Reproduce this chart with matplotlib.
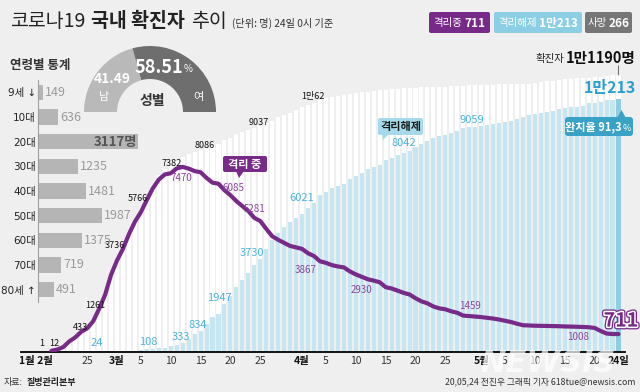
import matplotlib
matplotlib.use('Agg')
import matplotlib.pyplot as plt
import matplotlib.patheffects as pe
from matplotlib.patches import Wedge, FancyBboxPatch, Polygon
import pandas as pd

# ---- data (KCDC, 0시 기준) ----
dates = pd.date_range('2020-02-19', '2020-05-24')

confirmed = [51, 104, 204, 433, 602, 833, 977, 1261, 1766, 2337, 3150,
             3736, 4212, 4812, 5328, 5766, 6284, 6767, 7134, 7382, 7513, 7755, 7869, 7979, 8086, 8162,
             8236, 8320, 8413, 8565, 8652, 8799, 8897, 8961, 9037, 9137, 9241, 9332, 9478, 9583, 9661, 9786,
             9887, 9976, 10062, 10156, 10237, 10284, 10331, 10384, 10423, 10450, 10480, 10512, 10537, 10564,
             10591, 10613, 10635, 10653, 10661, 10674, 10683, 10694, 10702, 10708, 10718, 10728, 10738, 10752,
             10761, 10765,
             10774, 10780, 10793, 10801, 10804, 10806, 10810, 10822, 10840, 10874, 10909, 10936, 10962, 10991,
             11018, 11037, 11050, 11065, 11078, 11110, 11122, 11142, 11165, 11190]

released = [16, 16, 16, 16, 18, 18, 22, 22, 24, 27, 28,
            30, 31, 34, 41, 88, 108, 118, 130, 166, 247, 288, 333, 510, 714, 834,
            1137, 1407, 1540, 1947, 2233, 2612, 2909, 3166, 3507, 3730, 4144, 4528, 4811, 5033, 5228, 5408,
            5567, 5828, 6021, 6325, 6463, 6598, 6694, 6776, 6973, 7117, 7243, 7368, 7447, 7534,
            7757, 7829, 7937, 8042, 8114, 8277, 8411, 8501, 8635, 8717, 8764, 8854, 8922, 9059, 9072, 9102,
            9140, 9180, 9220, 9260, 9297, 9337, 9394, 9475, 9568, 9608, 9660, 9701, 9741, 9798,
            9838, 9879, 9903, 9931, 10040, 10065, 10105, 10174, 10180, 10213]

isolated = [35, 87, 187, 415, 578, 803, 945, 1227, 1729, 2294, 3105,
            3686, 4159, 4750, 5255, 5643, 6134, 6605, 6954, 7165, 7212, 7407, 7470, 7402, 7300, 7253,
            7024, 6832, 6789, 6527, 6325, 6085, 5884, 5684, 5410, 5281, 4966, 4665, 4523, 4398, 4275, 4216,
            4155, 3979, 3867, 3654, 3591, 3500, 3445, 3408, 3246, 3125, 3026, 2930, 2873, 2808,
            2609, 2555, 2468, 2379, 2313, 2161, 2035, 1955, 1827, 1751, 1714, 1632, 1573, 1459, 1440, 1420,
            1400, 1370, 1340, 1300, 1250, 1200, 1130, 1070, 1060, 1050, 1045, 1040, 1035, 1030,
            1020, 1015, 1008, 1000, 990, 960, 840, 735, 715, 711]

conf_label_dates = ['2020-02-22', '2020-02-26', '2020-03-01', '2020-03-05', '2020-03-09',
                    '2020-03-14', '2020-03-24', '2020-04-03']
rel_label_dates = ['2020-02-27', '2020-03-06', '2020-03-12', '2020-03-15', '2020-03-19',
                   '2020-03-25', '2020-04-03', '2020-04-18', '2020-04-28']
iso_label_dates = ['2020-03-12', '2020-03-21', '2020-03-25', '2020-04-03', '2020-04-12',
                   '2020-04-28', '2020-05-17']
early_labels = ['1', '12']

tick_days = [-13.6, -5, 0, 4, 9, 14, 19, 24, 31, 35, 40, 45, 50, 55, 61, 65, 70, 75, 80, 84]
tick_labels = ['1월 2월', '25', '3월', '5', '10', '15', '20', '25', '4월', '5', '10', '15', '20', '25',
               '5월', '5', '10', '15', '20', '24일']

age_groups = ['9세 ↓', '10대', '20대', '30대', '40대', '50대', '60대', '70대', '80세 ↑']
age_counts = [149, 636, 3117, 1235, 1481, 1987, 1375, 719, 491]

male_pct = 41.49
female_pct = 58.51
deaths = 266
recovery_rate = '91,3'

# ---- style ----
KR = 'Noto Sans CJK KR'
NUM = ['Liberation Sans Narrow', 'Noto Sans CJK KR']
plt.rcParams['font.family'] = [KR, 'DejaVu Sans']
BG = '#efefef'
PURPLE = '#782a88'
BLUE = '#c6e6f1'
BLUE_TXT = '#4db3dc'
W, H = 640, 392


def man(v):
    return f'{v // 10000}만{v % 10000}' if v >= 10000 else str(v)


days = list((dates - pd.Timestamp('2020-03-01')).days)
idx = {d.strftime('%Y-%m-%d'): i for i, d in enumerate(dates)}

fig = plt.figure(figsize=(W / 100, H / 100), dpi=100, facecolor=BG)
renderer = fig.canvas.get_renderer()


def box(l, t, r, b):
    return [l / W, 1 - b / H, (r - l) / W, (b - t) / H]


# ---- main chart ----
base_y, top_y, left_x, right_x = 351.7, 40, 20.7, 625
x_mar1, px_day, px_person = 117, 5.97, 0.02474
ax = fig.add_axes(box(left_x, top_y, right_x, base_y))
ax.set_facecolor('none')
ax.set_xlim((left_x - x_mar1) / px_day, (right_x - x_mar1) / px_day)
ax.set_ylim(0, (base_y - top_y) / px_person)
for s in ['top', 'right', 'left']:
    ax.spines[s].set_visible(False)
ax.spines['bottom'].set_linewidth(1.3)
ax.set_yticks([])

ax.bar(days, confirmed, width=0.68, color='white', zorder=1)
ax.bar(days, released, width=0.68, color=BLUE, zorder=2)
ax.bar(days[-1:], released[-1:], width=0.68, color='#8fcde2', zorder=2)
ax.plot(days, isolated, color=PURPLE, lw=3, solid_joinstyle='round', solid_capstyle='round', zorder=3)

ax.set_xticks(tick_days, tick_labels)
ax.tick_params(axis='x', length=0, pad=3)
for t in ax.get_xticklabels():
    t.set_family(NUM)
    t.set_fontsize(7.5)
    if '월' in t.get_text() or '일' in t.get_text():
        t.set_fontweight('bold')
        t.set_color('#111')
    else:
        t.set_color('#333')

conf_off = [(11, 13), (2, 15.5), (-2, 14), (-3, 11), (7, 6), (10, 6), (4, 6), (-1, 6)]
for d, (dx, dy) in zip(conf_label_dates, conf_off):
    i = idx[d]
    ax.annotate(man(confirmed[i]), (days[i], confirmed[i]), xytext=(dx, dy), textcoords='offset pixels',
                ha='center', va='center', fontsize=6.5, family=NUM, color='#111', zorder=5)

rel_off = [(-2, 8), (1, 7), (-2, 6.5), (-3, 6), (-5, 5.5), (-8, 6.4), (-12, 4.7), (0, 9.7), (9, 7.6)]
for d, (dx, dy) in zip(rel_label_dates, rel_off):
    i = idx[d]
    ax.annotate(man(released[i]), (days[i], released[i]), xytext=(dx, dy), textcoords='offset pixels',
                ha='center', va='center', fontsize=8, family=NUM, color=BLUE_TXT, zorder=5)

iso_off = [(-1, -11), (-3, 13), (-6, 12), (-8, -14), (-6, -11), (7, 9.6), (1, -10)]
for d, (dx, dy) in zip(iso_label_dates, iso_off):
    i = idx[d]
    ax.annotate(str(isolated[i]), (days[i], isolated[i]), xytext=(dx, dy), textcoords='offset pixels',
                ha='center', va='center', fontsize=7, family=NUM, color='#8a44a0', zorder=5)

ax.annotate(str(isolated[-1]), (days[-1], isolated[-1]), xytext=(2.5, 13), textcoords='offset pixels',
            ha='center', va='center', fontsize=14, family=NUM, fontweight='bold', color=PURPLE, zorder=6,
            path_effects=[pe.Stroke(linewidth=4, foreground=PURPLE), pe.Stroke(linewidth=2.2, foreground='white'),
                          pe.Normal()])
ax.annotate(man(released[-1]), (days[-1], released[-1]), xytext=(-8.5, 11), textcoords='offset pixels',
            ha='center', va='center', fontsize=11.5, family=NUM, fontweight='bold', color='#2a9fd0', zorder=6)
ax.annotate('', (days[-1], confirmed[-1]), xytext=(0, 9), textcoords='offset pixels',
            arrowprops=dict(arrowstyle='-', color='#777', lw=0.8, shrinkA=0, shrinkB=0))

# ---- overlay for text / callouts (pixel coords) ----
ov = fig.add_axes([0, 0, 1, 1], zorder=5)
ov.set_xlim(0, W)
ov.set_ylim(H, 0)
ov.axis('off')
ov.patch.set_alpha(0)


def right_edge(t):
    bb = t.get_window_extent(renderer)
    return ov.transData.inverted().transform((bb.x1, bb.y0))[0]


def width(t):
    bb = t.get_window_extent(renderer)
    return bb.width


# title, chained left to right
x = 10
for s, kw, gap in [('코로나19', {}, 6), ('국내 확진자', {'fontweight': 'bold'}, 6), ('추이', {}, 5)]:
    t = ov.text(x, 21, s, fontsize=14, va='center', color='#222', **kw)
    x = right_edge(t) + gap
ov.text(x, 23, '(단위: 명) 24일 0시 기준', fontsize=7.3, va='center', color='#333')

# badges, label + bold value centred in each box
badges = [(429, 490, PURPLE, '격리중', str(isolated[-1])),
          (494, 582, '#8ccfe4', '격리해제', man(released[-1])),
          (585, 632, '#767676', '사망', str(deaths))]
for l, r, c, lab, val in badges:
    ov.add_patch(FancyBboxPatch((l, 12), r - l, 21, boxstyle='round,pad=0,rounding_size=2', fc=c, ec='none'))
    t1 = ov.text(0, 23, lab, ha='left', va='center', fontsize=7.5, color='white')
    t2 = ov.text(0, 23, val, ha='left', va='center', fontsize=8.5, family=NUM, fontweight='bold', color='white')
    w1, w2 = width(t1), width(t2)
    start = (l + r) / 2 - (w1 + w2 + 2) / 2
    t1.set_x(start)
    t2.set_x(start + w1 + 2)

ov.text(564, 59, '확진자', ha='right', va='center', fontsize=7.5, color='#222')
ov.text(566, 58, man(confirmed[-1]) + '명', ha='left', va='center', fontsize=10.5, family=NUM,
        fontweight='bold', color='#111')

for e, x in zip(early_labels, [42, 54]):
    ov.text(x, 343, e, ha='center', va='center', fontsize=6.5, family=NUM, color='#111')

# callouts
ov.add_patch(FancyBboxPatch((223, 156), 44, 16, boxstyle='round,pad=0,rounding_size=2', fc=PURPLE, ec='none'))
ov.add_patch(Polygon([[236, 171], [244, 171], [239, 178]], closed=True, fc=PURPLE, ec='none'))
ov.text(245, 164, '격리 중', ha='center', va='center', fontsize=8, fontweight='bold', color='white')

ov.add_patch(FancyBboxPatch((378, 118), 45, 17, boxstyle='round,pad=0,rounding_size=2', fc='#a6daea', ec='none'))
ov.add_patch(Polygon([[382, 134], [389, 134], [383, 140]], closed=True, fc='#a6daea', ec='none'))
ov.text(400.5, 126.5, '격리해제', ha='center', va='center', fontsize=8, fontweight='bold', color='#1a1a1a')

ov.add_patch(FancyBboxPatch((565, 117), 68, 19, boxstyle='round,pad=0,rounding_size=3', fc='#3aa2c6', ec='none'))
ov.add_patch(Polygon([[617, 118], [626, 118], [621.5, 110]], closed=True, fc='#3aa2c6', ec='none'))
ov.text(622, 127, f'완치율 {recovery_rate}', ha='right', va='center', fontsize=8, fontweight='bold',
        color='white')
ov.text(623, 128, '%', ha='left', va='center', fontsize=6.5, color='white')

# gender gauge
cx, cy, R = 150, 112, 66
split_ang = 180 + male_pct / 100 * 180
ov.add_patch(Wedge((cx, cy), R, 180, split_ang, width=33, fc='#b9b9b9', ec='none'))
ov.add_patch(Wedge((cx, cy), R, split_ang, 360, width=33, fc='#6e6e6e', ec='none'))
ov.text(112, 79, f'{male_pct:.2f}', ha='center', va='center', fontsize=10, family=NUM, fontweight='bold',
        color='white')
ov.text(104, 97, '남', ha='center', va='center', fontsize=8, color='white')
ov.text(183, 67, f'{female_pct:.2f}', ha='right', va='center', fontsize=13, family=NUM, fontweight='bold',
        color='white')
ov.text(184, 69, '%', ha='left', va='center', fontsize=7, color='white')
ov.text(198, 97, '여', ha='center', va='center', fontsize=8, color='white')
ov.text(152, 101, '성별', ha='center', va='center', fontsize=10, fontweight='bold', color='#333')

# ---- age panel ----
ov.text(10, 65, '연령별 통계', ha='left', va='center', fontsize=9, fontweight='bold', color='#333')
age_px = 0.0321
ax2 = fig.add_axes(box(38, 80, 163, 302), zorder=2)
ax2.set_facecolor('none')
ax2.set_xlim(0, 125 / age_px)
ax2.set_ylim(len(age_groups) - 0.5, -0.5)
ax2.barh(range(len(age_groups)), age_counts, height=0.62, color='#b5b5b5')
for s in ['top', 'right', 'bottom']:
    ax2.spines[s].set_visible(False)
ax2.spines['left'].set_color('#a0a0a0')
ax2.spines['left'].set_linewidth(0.8)
ax2.set_xticks([])
ax2.set_yticks(range(len(age_groups)), age_groups)
ax2.tick_params(axis='y', length=0, pad=1.5, labelsize=7.5, labelcolor='#222')
for t in ax2.get_yticklabels():
    t.set_family(['DejaVu Sans', KR])
top = max(age_counts)
for i, v in enumerate(age_counts):
    if v == top:
        ax2.text(v - 40, i, f'{v}명', ha='right', va='center', fontsize=9.5, family=NUM, fontweight='bold',
                 color='#555')
    else:
        ax2.text(v + 60, i, str(v), ha='left', va='center', fontsize=9, family=NUM, color='#9a9a9a')

# ---- footer ----
ov.text(548, 364, 'NEWSIS', ha='center', va='center', fontsize=22, family='DejaVu Sans', fontweight='bold',
        fontstyle='italic', color='white', alpha=0.7)
ov.text(4, 382, '자료:', ha='left', va='center', fontsize=6.5, color='#333')
ov.text(27, 382, '질병관리본부', ha='left', va='center', fontsize=6.5, fontweight='bold', color='#222')
ov.text(635, 382, '20,05,24 전진우 그래픽 기자 618tue@newsis.com', ha='right', va='center', fontsize=6.3,
        color='#333')

fig.savefig('out.png', dpi=100, facecolor=BG)
